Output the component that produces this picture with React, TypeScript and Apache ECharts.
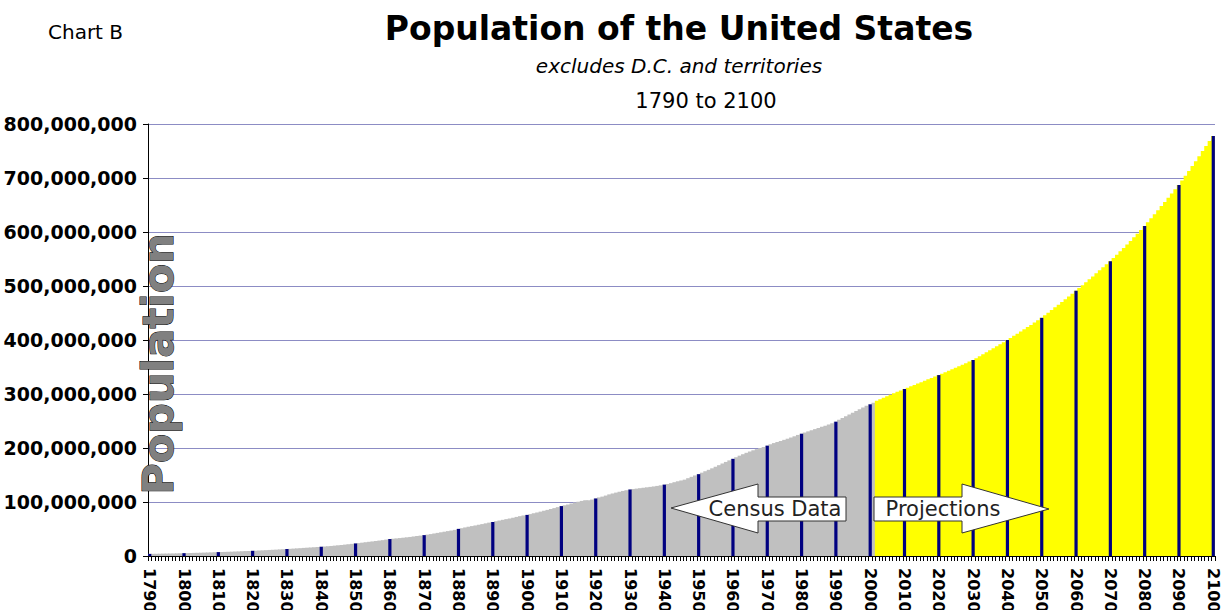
import React, { useEffect, useRef } from "react";
import * as echarts from "echarts";

// Population in millions, one value per year
const census1790s = [3.9, 4.0, 4.1, 4.2, 4.4, 4.5, 4.6, 4.7, 4.9, 5.0];
const census1800s = [5.2, 5.4, 5.6, 5.8, 5.9, 6.1, 6.3, 6.5, 6.7, 7.0];
const census1810s = [7.2, 7.4, 7.6, 7.8, 8.0, 8.3, 8.5, 8.8, 9.1, 9.3];
const census1820s = [9.6, 9.9, 10.2, 10.5, 10.8, 11.2, 11.5, 11.8, 12.2, 12.5];
const census1830s = [12.9, 13.3, 13.7, 14.1, 14.5, 15.0, 15.4, 15.8, 16.2, 16.7];
const census1840s = [17.1, 17.6, 18.1, 18.6, 19.2, 19.8, 20.4, 21.1, 21.8, 22.5];
const census1850s = [23.2, 23.9, 24.7, 25.5, 26.3, 27.0, 27.8, 28.6, 29.4, 30.4];
const census1860s = [31.4, 32.0, 32.6, 33.2, 33.9, 34.6, 35.3, 36.2, 37.0, 37.8];
const census1870s = [38.6, 39.6, 40.6, 41.7, 42.8, 43.9, 45.0, 46.1, 47.2, 48.4];
const census1880s = [50.2, 51.5, 52.9, 54.2, 55.4, 56.6, 57.9, 59.1, 60.5, 61.8];
const census1890s = [63.0, 64.4, 65.7, 67.0, 68.3, 69.6, 71.0, 72.4, 73.8, 75.1];
const census1900s = [76.1, 77.6, 79.2, 80.6, 82.2, 83.8, 85.4, 87.0, 88.7, 90.5];
const census1910s = [92.4, 93.9, 95.3, 97.2, 99.1, 100.5, 102.0, 103.3, 103.2, 104.5];
const census1920s = [106.5, 108.5, 110.0, 111.9, 114.1, 115.8, 117.4, 119.0, 120.5, 121.8];
const census1930s = [123.1, 124.0, 124.8, 125.6, 126.4, 127.2, 128.0, 128.8, 129.8, 130.9];
const census1940s = [132.1, 133.4, 134.9, 136.7, 138.4, 139.9, 141.4, 144.1, 146.6, 149.2];
const census1950s = [151.5, 154.3, 157.0, 159.6, 162.4, 165.3, 168.2, 171.3, 174.2, 177.1];
const census1960s = [179.9, 182.9, 185.8, 188.5, 191.1, 193.5, 195.8, 197.9, 199.9, 201.9];
const census1970s = [204.3, 206.9, 209.1, 211.1, 213.0, 215.1, 217.2, 219.4, 221.7, 224.2];
const census1980s = [226.4, 228.6, 230.8, 232.9, 235.0, 237.1, 239.3, 241.4, 243.6, 245.9];
const census1990s = [248.7, 252.1, 255.6, 259.0, 262.2, 265.4, 268.5, 271.7, 274.9, 278.1];
const census2000s = [280.8, 283.8];
const projections2000s = [287.5, 290.2, 293.0, 295.8, 298.6, 301.3, 304.0, 306.6];
const projections2010s = [309.3, 311.8, 314.3, 316.8, 319.3, 321.9, 324.5, 327.1, 329.7, 332.3];
const projections2020s = [335.0, 337.7, 340.4, 343.1, 345.8, 348.5, 351.3, 354.1, 357.0, 360.0];
const projections2030s = [363.0, 366.4, 369.9, 373.5, 377.1, 380.8, 384.5, 388.3, 392.1, 396.0];
const projections2040s = [400.0, 403.9, 407.8, 411.8, 415.8, 419.8, 423.9, 428.0, 432.2, 436.5];
const projections2050s = [441.0, 445.8, 450.6, 455.5, 460.5, 465.5, 470.5, 475.5, 480.6, 485.8];
const projections2060s = [491.0, 496.2, 501.5, 506.9, 512.3, 517.8, 523.4, 529.0, 534.7, 540.3];
const projections2070s = [546.0, 552.0, 558.1, 564.3, 570.6, 577.0, 583.5, 590.1, 596.8, 603.8];
const projections2080s = [611.0, 618.2, 625.5, 632.9, 640.4, 648.0, 655.7, 663.5, 671.4, 679.2];
const projections2090s = [687.0, 695.5, 704.2, 713.0, 722.0, 731.2, 740.5, 749.9, 759.3, 768.6];
const projections2100 = [778.0];

const censusValues = [
  ...census1790s, ...census1800s, ...census1810s, ...census1820s, ...census1830s,
  ...census1840s, ...census1850s, ...census1860s, ...census1870s, ...census1880s,
  ...census1890s, ...census1900s, ...census1910s, ...census1920s, ...census1930s,
  ...census1940s, ...census1950s, ...census1960s, ...census1970s, ...census1980s,
  ...census1990s, ...census2000s,
];
const projectionValues = [
  ...projections2000s, ...projections2010s, ...projections2020s, ...projections2030s,
  ...projections2040s, ...projections2050s, ...projections2060s, ...projections2070s,
  ...projections2080s, ...projections2090s, ...projections2100,
];

const firstYear = 1790;
const allValues = [...censusValues, ...projectionValues];
const years = allValues.map((_, i) => String(firstYear + i));

const yTicks = { min: 0, max: 800000000, interval: 100000000 };

const GRAY = "#c0c0c0";
const YELLOW = "#ffff00";
const NAVY = "#000080";

export default function App() {
  const ref = useRef<HTMLDivElement>(null);
  useEffect(() => {
    if (!ref.current) return;
    const chart = echarts.init(ref.current, undefined, { renderer: "svg" });
    const font = "DejaVu Sans, Verdana, sans-serif";
    const yearlyData = allValues.map((v, i) => ({
      value: Math.round(v * 1e6),
      itemStyle: { color: i < censusValues.length ? GRAY : YELLOW },
    }));
    const decadeData = allValues.map((v, i) =>
      (firstYear + i) % 10 === 0 ? Math.round(v * 1e6) : null
    );
    chart.setOption({
      animation: false,
      grid: {
        left: 148,
        right: 10,
        top: 124,
        bottom: 54,
        containLabel: false,
        outerBoundsMode: "none",
      },
      xAxis: [
        {
          type: "category",
          data: years,
          boundaryGap: true,
          axisLine: { lineStyle: { color: "#000", width: 1 } },
          axisTick: { show: true, interval: 0, length: 5, lineStyle: { color: "#000" } },
          axisLabel: {
            interval: (idx: number) => idx % 10 === 0,
            rotate: -90,
            margin: 12,
            fontFamily: font,
            fontWeight: "bold",
            fontSize: 16,
            color: "#000",
          },
          splitLine: { show: false },
          z: 5,
        },
        {
          type: "category",
          data: years,
          boundaryGap: true,
          position: "bottom",
          show: false,
        },
      ],
      yAxis: {
        type: "value",
        min: yTicks.min,
        max: yTicks.max,
        interval: yTicks.interval,
        axisLine: { show: true, lineStyle: { color: "#000", width: 1 } },
        axisTick: { show: true, length: 5, inside: false, lineStyle: { color: "#000" } },
        axisLabel: {
          margin: 11,
          fontFamily: font,
          fontWeight: "bold",
          fontSize: 19,
          color: "#000",
          formatter: (v: number) => v.toLocaleString("en-US"),
        },
        splitLine: { show: true, lineStyle: { color: "#8c8cc4", width: 1 } },
      },
      series: [
        {
          type: "bar",
          name: "Yearly",
          xAxisIndex: 1,
          data: yearlyData,
          barWidth: 4.4,
          silent: true,
          z: 2,
        },
        {
          type: "bar",
          name: "Decennial",
          xAxisIndex: 0,
          data: decadeData,
          barWidth: 3.2,
          itemStyle: { color: NAVY },
          silent: true,
          z: 3,
        },
      ],
      graphic: [
        {
          type: "text",
          left: 48,
          top: 22,
          style: { text: "Chart B", font: `20px ${font}`, fill: "#000" },
        },
        {
          type: "text",
          x: 679,
          y: 28,
          style: {
            text: "Population of the United States",
            font: `bold 33px ${font}`,
            fill: "#000",
            textAlign: "center",
            textVerticalAlign: "middle",
          },
        },
        {
          type: "text",
          x: 679,
          y: 66,
          style: {
            text: "excludes D.C. and territories",
            font: `italic 20px ${font}`,
            fill: "#000",
            textAlign: "center",
            textVerticalAlign: "middle",
          },
        },
        {
          type: "text",
          x: 706,
          y: 101,
          style: {
            text: "1790 to 2100",
            font: `21px ${font}`,
            fill: "#000",
            textAlign: "center",
            textVerticalAlign: "middle",
          },
        },
        {
          type: "text",
          x: 158,
          y: 364,
          rotation: Math.PI / 2,
          z: 100,
          style: {
            text: "Population",
            font: `bold 43px ${font}`,
            fill: "#808080",
            stroke: "#000",
            lineWidth: 1,
            textAlign: "center",
            textVerticalAlign: "middle",
          },
        },
        {
          type: "polygon",
          z: 100,
          shape: {
            points: [[671, 508], [758, 484], [758, 497], [846, 497], [846, 521], [758, 521], [758, 533]],
          },
          style: { fill: "#fff", stroke: "#333", lineWidth: 1 },
        },
        {
          type: "text",
          z: 101,
          x: 775,
          y: 509,
          style: {
            text: "Census Data",
            font: `21px ${font}`,
            fill: "#222",
            textAlign: "center",
            textVerticalAlign: "middle",
          },
        },
        {
          type: "polygon",
          z: 100,
          shape: {
            points: [[874, 497], [962, 497], [962, 484], [1049, 509], [962, 533], [962, 521], [874, 521]],
          },
          style: { fill: "#fff", stroke: "#333", lineWidth: 1 },
        },
        {
          type: "text",
          z: 101,
          x: 943,
          y: 509,
          style: {
            text: "Projections",
            font: `21px ${font}`,
            fill: "#222",
            textAlign: "center",
            textVerticalAlign: "middle",
          },
        },
      ],
    });
    return () => chart.dispose();
  }, []);
  return (
    <div
      ref={ref}
      style={{ position: "fixed", left: 0, top: 0, width: 1225, height: 610, background: "#fff" }}
    />
  );
}
